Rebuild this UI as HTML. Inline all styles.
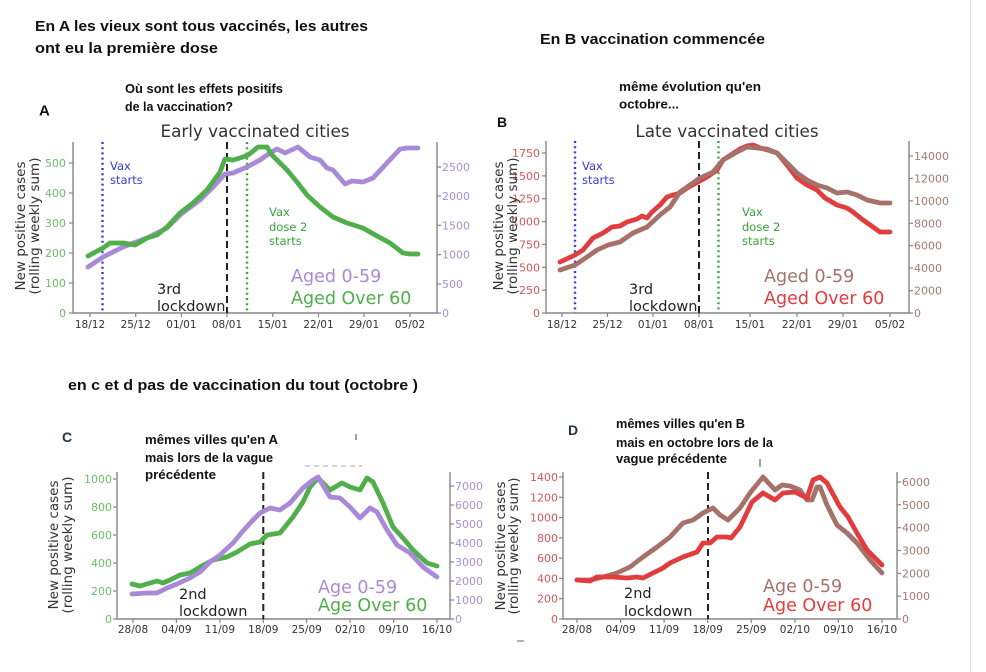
<!DOCTYPE html>
<html><head><meta charset="utf-8"><style>
html,body{margin:0;padding:0;background:#fff;}
svg{display:block;}
.h{font-family:"Liberation Sans",sans-serif;font-weight:bold;fill:#111;}
.t{font-family:"DejaVu Sans","Liberation Sans",sans-serif;}
.tk{font-family:"DejaVu Sans","Liberation Sans",sans-serif;font-size:11px;}
.xt{font-family:"DejaVu Sans","Liberation Sans",sans-serif;font-size:10.5px;fill:#333;text-anchor:middle;}
.yl{font-family:"DejaVu Sans","Liberation Sans",sans-serif;font-size:13.5px;fill:#333;text-anchor:middle;}
.sp{stroke:#858585;stroke-width:1.4;fill:none;}
.ln{fill:none;stroke-width:4.8;stroke-linejoin:round;stroke-linecap:round;}
</style></head><body>
<svg width="986" height="672" viewBox="0 0 986 672" xmlns="http://www.w3.org/2000/svg">
<rect width="986" height="672" fill="#fff"/>
<line x1="970.5" y1="0" x2="970.5" y2="672" stroke="#e2e2e2" stroke-width="1.2"/>

<!-- Headings -->
<text class="h" x="35" y="31" font-size="15" textLength="333" lengthAdjust="spacingAndGlyphs">En A les vieux sont tous vaccinés, les autres</text>
<text class="h" x="35" y="53" font-size="15" textLength="183" lengthAdjust="spacingAndGlyphs">ont eu la première dose</text>
<text class="h" x="125" y="93" font-size="12.5" textLength="158" lengthAdjust="spacingAndGlyphs">Où sont les effets positifs</text>
<text class="h" x="125" y="111" font-size="12.5" textLength="108" lengthAdjust="spacingAndGlyphs">de la vaccination?</text>
<text class="h" x="39" y="115.5" font-size="15">A</text>

<text class="h" x="540" y="44" font-size="15" textLength="225" lengthAdjust="spacingAndGlyphs">En B vaccination  commencée</text>
<text class="h" x="619" y="91" font-size="12.5" textLength="142" lengthAdjust="spacingAndGlyphs">même évolution qu'en</text>
<text class="h" x="619" y="108.5" font-size="12.5" textLength="60" lengthAdjust="spacingAndGlyphs">octobre...</text>
<text class="h" x="497" y="127" font-size="14">B</text>

<text class="h" x="68" y="390" font-size="15" textLength="350" lengthAdjust="spacingAndGlyphs">en c et d pas de vaccination du tout (octobre )</text>
<text class="h" x="62" y="442" font-size="14" style="fill:#25324a">C</text>
<text class="h" x="145" y="444" font-size="12.5" textLength="133" lengthAdjust="spacingAndGlyphs">mêmes villes qu'en A</text>
<text class="h" x="145" y="462" font-size="12.5" textLength="128" lengthAdjust="spacingAndGlyphs">mais lors de la vague</text>
<text class="h" x="145" y="479" font-size="12.5" textLength="71" lengthAdjust="spacingAndGlyphs">précédente</text>

<text class="h" x="568" y="435" font-size="14" style="fill:#25324a">D</text>
<text class="h" x="616" y="428" font-size="12.5" textLength="129" lengthAdjust="spacingAndGlyphs">mêmes villes qu'en B</text>
<text class="h" x="616" y="447" font-size="12.5" textLength="157" lengthAdjust="spacingAndGlyphs">mais en octobre lors de la</text>
<text class="h" x="616" y="463" font-size="12.5" textLength="111" lengthAdjust="spacingAndGlyphs">vague précédente</text>

<!-- small artifacts -->
<line x1="356" y1="434" x2="356" y2="440" stroke="#444" stroke-width="1"/>
<line x1="305" y1="466" x2="362" y2="466" stroke="#aaa" stroke-width="1" stroke-dasharray="5 4"/>
<line x1="760" y1="459" x2="760" y2="467" stroke="#444" stroke-width="1"/>
<line x1="517" y1="641" x2="524" y2="641" stroke="#999" stroke-width="1.5"/>

<!-- ================= PANEL A ================= -->
<text class="t" x="255" y="137" font-size="16.8" fill="#333" text-anchor="middle">Early vaccinated cities</text>
<path class="sp" d="M73,142 V313 H437 V142"/>
<g stroke="#858585" stroke-width="1.2">
<line x1="69" y1="313" x2="73" y2="313"/><line x1="69" y1="283" x2="73" y2="283"/><line x1="69" y1="253" x2="73" y2="253"/><line x1="69" y1="223" x2="73" y2="223"/><line x1="69" y1="193" x2="73" y2="193"/><line x1="69" y1="163" x2="73" y2="163"/>
<line x1="437" y1="313" x2="441" y2="313"/><line x1="437" y1="284" x2="441" y2="284"/><line x1="437" y1="254.6" x2="441" y2="254.6"/><line x1="437" y1="225.4" x2="441" y2="225.4"/><line x1="437" y1="196" x2="441" y2="196"/><line x1="437" y1="167" x2="441" y2="167"/>
<line x1="90" y1="313" x2="90" y2="317"/><line x1="135.7" y1="313" x2="135.7" y2="317"/><line x1="181.4" y1="313" x2="181.4" y2="317"/><line x1="227" y1="313" x2="227" y2="317"/><line x1="272.8" y1="313" x2="272.8" y2="317"/><line x1="318.5" y1="313" x2="318.5" y2="317"/><line x1="364" y1="313" x2="364" y2="317"/><line x1="410" y1="313" x2="410" y2="317"/>
</g>
<g class="tk" fill="#6cbd69" text-anchor="end">
<text x="66" y="317">0</text><text x="66" y="287">100</text><text x="66" y="257">200</text><text x="66" y="227">300</text><text x="66" y="197">400</text><text x="66" y="167">500</text>
</g>
<g class="tk" fill="#ab8ed4">
<text x="442" y="317">0</text><text x="442" y="288">500</text><text x="442" y="258.6">1000</text><text x="442" y="229.4">1500</text><text x="442" y="200">2000</text><text x="442" y="171">2500</text>
</g>
<g class="xt">
<text x="90" y="328">18/12</text><text x="135.7" y="328">25/12</text><text x="181.4" y="328">01/01</text><text x="227" y="328">08/01</text><text x="272.8" y="328">15/01</text><text x="318.5" y="328">22/01</text><text x="364" y="328">29/01</text><text x="410" y="328">05/02</text>
</g>
<text class="yl" transform="translate(25,226) rotate(-90)">New positive cases</text>
<text class="yl" transform="translate(39,226) rotate(-90)">(rolling weekly sum)</text>
<line x1="102.5" y1="142" x2="102.5" y2="313" stroke="#3b3bdc" stroke-width="2.4" stroke-dasharray="2 3.2"/>
<line x1="247" y1="142" x2="247" y2="313" stroke="#3ca83c" stroke-width="2.4" stroke-dasharray="2 3.2"/>
<line x1="227" y1="142" x2="227" y2="313" stroke="#222" stroke-width="2" stroke-dasharray="7 4"/>
<polyline class="ln" stroke="#a98ad8" points="88,267 103,257 123,247 147,238 167,228 180,215 200,200 215,185 225,174 233,173 247,167 260,160 270,153 277,149 285,153 298,147 310,157 320,160 327,168 333,170 345,184 352,181 363,182 373,178 387,163 400,149 407,148 418,148"/>
<polyline class="ln" stroke="#50ae4b" points="88,256 103,248 110,243 123,243 135,245 147,238 157,235 167,227 180,213 193,203 207,190 220,172 225,159 233,160 240,158 248,155 252,152 258,147 267,147 272,155 287,170 297,182 307,195 320,207 333,217 347,223 363,228 377,236 390,243 403,253 410,254 418,254"/>
<text class="t" font-size="11.5" fill="#3b3bd8"><tspan x="110" y="170">Vax</tspan><tspan x="110" y="184">starts</tspan></text>
<text class="t" font-size="11.5" fill="#3c9f3c"><tspan x="269" y="216">Vax</tspan><tspan x="269" y="231">dose 2</tspan><tspan x="269" y="245">starts</tspan></text>
<text class="t" font-size="14.5" fill="#222"><tspan x="157" y="294">3rd</tspan><tspan x="157" y="311">lockdown</tspan></text>
<text class="t" font-size="17.5" fill="#a98ad8" x="291" y="282">Aged 0-59</text>
<text class="t" font-size="17.5" fill="#50ae4b" x="291" y="304">Aged Over 60</text>

<!-- ================= PANEL B ================= -->
<text class="t" x="727" y="137" font-size="16.8" fill="#333" text-anchor="middle">Late vaccinated cities</text>
<path class="sp" d="M546,141 V313 H909 V141"/>
<g stroke="#858585" stroke-width="1.2">
<line x1="542" y1="313" x2="546" y2="313"/><line x1="542" y1="290.1" x2="546" y2="290.1"/><line x1="542" y1="267.3" x2="546" y2="267.3"/><line x1="542" y1="244.4" x2="546" y2="244.4"/><line x1="542" y1="221.6" x2="546" y2="221.6"/><line x1="542" y1="198.7" x2="546" y2="198.7"/><line x1="542" y1="175.9" x2="546" y2="175.9"/><line x1="542" y1="153" x2="546" y2="153"/>
<line x1="909" y1="313" x2="913" y2="313"/><line x1="909" y1="290.6" x2="913" y2="290.6"/><line x1="909" y1="268.1" x2="913" y2="268.1"/><line x1="909" y1="245.7" x2="913" y2="245.7"/><line x1="909" y1="223.3" x2="913" y2="223.3"/><line x1="909" y1="200.9" x2="913" y2="200.9"/><line x1="909" y1="178.4" x2="913" y2="178.4"/><line x1="909" y1="156" x2="913" y2="156"/>
<line x1="562" y1="313" x2="562" y2="317"/><line x1="607.5" y1="313" x2="607.5" y2="317"/><line x1="653" y1="313" x2="653" y2="317"/><line x1="699" y1="313" x2="699" y2="317"/><line x1="750" y1="313" x2="750" y2="317"/><line x1="797" y1="313" x2="797" y2="317"/><line x1="843" y1="313" x2="843" y2="317"/><line x1="890" y1="313" x2="890" y2="317"/>
</g>
<g class="tk" fill="#d2575a" text-anchor="end">
<text x="540" y="317">0</text><text x="540" y="294.1">250</text><text x="540" y="271.3">500</text><text x="540" y="248.4">750</text><text x="540" y="225.6">1000</text><text x="540" y="202.7">1250</text><text x="540" y="179.9">1500</text><text x="540" y="157">1750</text>
</g>
<g class="tk" fill="#a57a72">
<text x="914" y="317">0</text><text x="914" y="294.6">2000</text><text x="914" y="272.1">4000</text><text x="914" y="249.7">6000</text><text x="914" y="227.3">8000</text><text x="914" y="204.9">10000</text><text x="914" y="182.4">12000</text><text x="914" y="160">14000</text>
</g>
<g class="xt">
<text x="562" y="328">18/12</text><text x="607.5" y="328">25/12</text><text x="653" y="328">01/01</text><text x="699" y="328">08/01</text><text x="750" y="328">15/01</text><text x="797" y="328">22/01</text><text x="843" y="328">29/01</text><text x="890" y="328">05/02</text>
</g>
<text class="yl" transform="translate(503,226) rotate(-90)">New positive cases</text>
<text class="yl" transform="translate(517,226) rotate(-90)">(rolling weekly sum)</text>
<line x1="575" y1="141" x2="575" y2="313" stroke="#3b3bdc" stroke-width="2.4" stroke-dasharray="2 3.2"/>
<line x1="718.5" y1="141" x2="718.5" y2="313" stroke="#3ca83c" stroke-width="2.4" stroke-dasharray="2 3.2"/>
<line x1="699" y1="141" x2="699" y2="313" stroke="#222" stroke-width="2" stroke-dasharray="7 4"/>
<polyline class="ln" stroke="#e13c3e" points="560,262 575,255 583,250 593,238 603,233 612,227 620,226 627,222 637,219 642,216 647,218 652,212 660,205 667,197 673,195 680,193 687,188 698,182 707,177 717,170 723,160 740,149 747,146 753,145 760,148 768,150 777,153 787,165 797,178 807,185 817,190 825,198 837,205 847,208 853,212 863,220 873,227 880,232 890,232"/>
<polyline class="ln" stroke="#a5716a" points="560,270 575,265 587,257 597,250 608,245 620,242 633,233 647,227 660,215 670,207 680,192 690,185 700,178 713,172 723,160 737,152 747,147 757,148 767,149 777,153 787,163 797,173 807,180 817,185 827,188 837,193 847,192 857,195 867,200 880,203 890,203"/>
<text class="t" font-size="11.5" fill="#3b3bd8"><tspan x="582" y="170">Vax</tspan><tspan x="582" y="184">starts</tspan></text>
<text class="t" font-size="11.5" fill="#3c9f3c"><tspan x="742" y="216">Vax</tspan><tspan x="742" y="231">dose 2</tspan><tspan x="742" y="245">starts</tspan></text>
<text class="t" font-size="14.5" fill="#222"><tspan x="629" y="294">3rd</tspan><tspan x="629" y="311">lockdown</tspan></text>
<text class="t" font-size="17.5" fill="#a5716a" x="764" y="282">Aged 0-59</text>
<text class="t" font-size="17.5" fill="#e13c3e" x="764" y="304">Aged Over 60</text>

<!-- ================= PANEL C ================= -->
<path class="sp" d="M117,472 V619 H450 V472"/>
<g stroke="#858585" stroke-width="1.2">
<line x1="113" y1="619" x2="117" y2="619"/><line x1="113" y1="591" x2="117" y2="591"/><line x1="113" y1="563" x2="117" y2="563"/><line x1="113" y1="535" x2="117" y2="535"/><line x1="113" y1="507" x2="117" y2="507"/><line x1="113" y1="479" x2="117" y2="479"/>
<line x1="450" y1="619" x2="454" y2="619"/><line x1="450" y1="600" x2="454" y2="600"/><line x1="450" y1="581" x2="454" y2="581"/><line x1="450" y1="562" x2="454" y2="562"/><line x1="450" y1="543" x2="454" y2="543"/><line x1="450" y1="524" x2="454" y2="524"/><line x1="450" y1="505" x2="454" y2="505"/><line x1="450" y1="486" x2="454" y2="486"/>
<line x1="133" y1="619" x2="133" y2="623"/><line x1="176.4" y1="619" x2="176.4" y2="623"/><line x1="219.9" y1="619" x2="219.9" y2="623"/><line x1="263.3" y1="619" x2="263.3" y2="623"/><line x1="306.7" y1="619" x2="306.7" y2="623"/><line x1="350.1" y1="619" x2="350.1" y2="623"/><line x1="393.6" y1="619" x2="393.6" y2="623"/><line x1="437" y1="619" x2="437" y2="623"/>
</g>
<g class="tk" fill="#6cbd69" text-anchor="end">
<text x="112" y="623">0</text><text x="112" y="595">200</text><text x="112" y="567">400</text><text x="112" y="539">600</text><text x="112" y="511">800</text><text x="112" y="483">1000</text>
</g>
<g class="tk" fill="#ab8ed4">
<text x="455" y="623">0</text><text x="455" y="604">1000</text><text x="455" y="585">2000</text><text x="455" y="566">3000</text><text x="455" y="547">4000</text><text x="455" y="528">5000</text><text x="455" y="509">6000</text><text x="455" y="490">7000</text>
</g>
<g class="xt">
<text x="133" y="633">28/08</text><text x="176.4" y="633">04/09</text><text x="219.9" y="633">11/09</text><text x="263.3" y="633">18/09</text><text x="306.7" y="633">25/09</text><text x="350.1" y="633">02/10</text><text x="393.6" y="633">09/10</text><text x="437" y="633">16/10</text>
</g>
<text class="yl" transform="translate(58,545) rotate(-90)">New positive cases</text>
<text class="yl" transform="translate(72,545) rotate(-90)">(rolling weekly sum)</text>
<line x1="263.3" y1="472" x2="263.3" y2="619" stroke="#222" stroke-width="2" stroke-dasharray="7 4"/>
<polyline class="ln" stroke="#50ae4b" points="132,584 140,586 150,583 157,581 163,583 170,580 180,575 190,573 200,567 213,560 227,557 237,552 250,544 260,542 267,535 280,533 293,517 303,502 310,487 318,478 330,490 342,483 350,487 360,490 367,478 373,482 383,503 393,527 403,538 413,550 427,563 437,566"/>
<polyline class="ln" stroke="#a98ad8" points="132,594 147,593 157,593 167,588 177,584 190,578 200,572 210,562 220,555 233,543 243,531 253,520 260,513 270,508 280,510 290,503 303,488 313,480 318,477 330,497 340,498 350,507 360,518 370,508 377,512 387,530 397,545 410,553 423,567 437,577"/>
<text class="t" font-size="14.5" fill="#222"><tspan x="179" y="599">2nd</tspan><tspan x="179" y="616">lockdown</tspan></text>
<text class="t" font-size="17.5" fill="#a98ad8" x="318" y="593">Age 0-59</text>
<text class="t" font-size="17.5" fill="#50ae4b" x="318" y="611">Age Over 60</text>

<!-- ================= PANEL D ================= -->
<path class="sp" d="M563,472 V619 H897 V472"/>
<g stroke="#858585" stroke-width="1.2">
<line x1="559" y1="619" x2="563" y2="619"/><line x1="559" y1="598.7" x2="563" y2="598.7"/><line x1="559" y1="578.4" x2="563" y2="578.4"/><line x1="559" y1="558.1" x2="563" y2="558.1"/><line x1="559" y1="537.9" x2="563" y2="537.9"/><line x1="559" y1="517.6" x2="563" y2="517.6"/><line x1="559" y1="497.3" x2="563" y2="497.3"/><line x1="559" y1="477" x2="563" y2="477"/>
<line x1="897" y1="619" x2="901" y2="619"/><line x1="897" y1="596.2" x2="901" y2="596.2"/><line x1="897" y1="573.3" x2="901" y2="573.3"/><line x1="897" y1="550.5" x2="901" y2="550.5"/><line x1="897" y1="527.7" x2="901" y2="527.7"/><line x1="897" y1="504.8" x2="901" y2="504.8"/><line x1="897" y1="482" x2="901" y2="482"/>
<line x1="577" y1="619" x2="577" y2="623"/><line x1="620.6" y1="619" x2="620.6" y2="623"/><line x1="664.1" y1="619" x2="664.1" y2="623"/><line x1="707.7" y1="619" x2="707.7" y2="623"/><line x1="751.3" y1="619" x2="751.3" y2="623"/><line x1="794.9" y1="619" x2="794.9" y2="623"/><line x1="838.4" y1="619" x2="838.4" y2="623"/><line x1="882" y1="619" x2="882" y2="623"/>
</g>
<g class="tk" fill="#d2575a" text-anchor="end">
<text x="558" y="623">0</text><text x="558" y="602.7">200</text><text x="558" y="582.4">400</text><text x="558" y="562.1">600</text><text x="558" y="541.9">800</text><text x="558" y="521.6">1000</text><text x="558" y="501.3">1200</text><text x="558" y="481">1400</text>
</g>
<g class="tk" fill="#a57a72">
<text x="902" y="623">0</text><text x="902" y="600.2">1000</text><text x="902" y="577.3">2000</text><text x="902" y="554.5">3000</text><text x="902" y="531.7">4000</text><text x="902" y="508.8">5000</text><text x="902" y="486">6000</text>
</g>
<g class="xt">
<text x="577" y="633">28/08</text><text x="620.6" y="633">04/09</text><text x="664.1" y="633">11/09</text><text x="707.7" y="633">18/09</text><text x="751.3" y="633">25/09</text><text x="794.9" y="633">02/10</text><text x="838.4" y="633">09/10</text><text x="882" y="633">16/10</text>
</g>
<text class="yl" transform="translate(505,546) rotate(-90)">New positive cases</text>
<text class="yl" transform="translate(518,546) rotate(-90)">(rolling weekly sum)</text>
<line x1="708" y1="472" x2="708" y2="619" stroke="#222" stroke-width="2" stroke-dasharray="7 4"/>
<polyline class="ln" stroke="#a5716a" points="577,580 590,580 603,577 617,573 630,567 643,557 657,547 670,537 683,523 693,520 703,513 713,508 720,515 728,520 740,508 750,493 763,477 775,490 782,485 790,486 800,490 807,500 812,500 817,487 820,487 827,505 837,525 847,533 857,543 870,560 882,573"/>
<polyline class="ln" stroke="#e13c3e" points="577,580 590,581 597,577 613,577 627,578 637,577 643,578 653,573 663,568 670,563 683,557 697,552 703,543 710,543 717,537 727,537 731,538 740,527 752,502 763,493 775,500 783,493 795,492 807,498 813,480 820,477 827,483 840,507 848,517 857,533 867,550 882,565"/>
<text class="t" font-size="14.5" fill="#222"><tspan x="624" y="598">2nd</tspan><tspan x="624" y="616">lockdown</tspan></text>
<text class="t" font-size="17.5" fill="#a5716a" x="763" y="592">Age 0-59</text>
<text class="t" font-size="17.5" fill="#e13c3e" x="763" y="611">Age Over 60</text>
</svg>
</body></html>
